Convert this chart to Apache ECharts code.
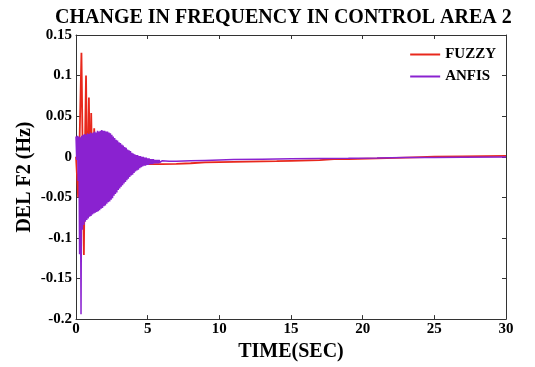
<!DOCTYPE html>
<html><head><meta charset="utf-8">
<script src="https://cdn.jsdelivr.net/npm/echarts@6/dist/echarts.min.js"></script>
<style>html,body{margin:0;padding:0;background:#fff}#c{width:535px;height:367px}</style>
</head><body><div id="c"></div>
<script>
// Tick labels
var xTicks = [0, 5, 10, 15, 20, 25, 30];
var yTicks = [-0.2, -0.15, -0.1, -0.05, 0, 0.05, 0.1, 0.15];

// FUZZY response: [time (s), del f2 (Hz)]
var fuzzy = [
  [0,0],[0.08,0.002],[0.15,-0.05],[0.25,0.02],[0.38,0.128],[0.47,0.0],[0.55,-0.121],
  [0.63,0.02],[0.70,0.100],[0.76,0.0],[0.81,-0.075],[0.86,0.02],[0.90,0.073],
  [0.95,0.0],[0.99,-0.050],[1.03,0.01],[1.06,0.054],[1.11,0.0],[1.16,-0.030],
  [1.22,0.0],[1.27,0.035],[1.35,-0.020],[1.45,0.020],[1.6,-0.016],[1.75,0.010],
  [1.9,-0.013],[2.1,0.002],[2.4,-0.010],[2.7,-0.004],[3.0,-0.008],[3.5,-0.008],
  [4,-0.009],[5,-0.009],[6,-0.009],[7,-0.0088],[8,-0.008],[9,-0.007],[10,-0.0065],
  [12,-0.006],[14,-0.0055],[15,-0.005],[17,-0.0042],[18,-0.003],[19,-0.0028],
  [21,-0.002],[23,-0.001],[25,0],[27,0.0005],[30,0.001]
];

// ANFIS response: fast oscillation sampled every 0.05 s from t = 0 to 6 s
var anfisStep = 0.05;
var anfisOsc = [
  0.025,-0.004,0.026,-0.030,0.025,-0.120,0.024,-0.194,0.026,-0.090,
  0.027,-0.084,0.028,-0.080,0.027,-0.078,0.029,-0.076,0.028,-0.074,
  0.030,-0.073,0.029,-0.071,0.030,-0.070,0.031,-0.069,0.030,-0.068,
  0.032,-0.067,0.031,-0.066,0.032,-0.064,0.033,-0.063,0.032,-0.061,
  0.032,-0.060,0.031,-0.058,0.031,-0.056,0.030,-0.055,0.029,-0.053,
  0.027,-0.051,0.025,-0.048,0.023,-0.046,0.021,-0.044,0.020,-0.041,
  0.018,-0.039,0.017,-0.037,0.015,-0.035,0.014,-0.033,0.012,-0.031,
  0.011,-0.029,0.009,-0.027,0.008,-0.025,0.007,-0.023,0.005,-0.022,
  0.004,-0.020,0.003,-0.018,0.002,-0.017,0.002,-0.016,0.001,-0.014,
  0.001,-0.013,0.000,-0.012,0.000,-0.011,-0.001,-0.011,-0.001,-0.010,
  -0.002,-0.010,-0.002,-0.009,-0.003,-0.009,-0.003,-0.009,-0.003,-0.008,
  -0.004,-0.008,-0.004,-0.008,-0.004,-0.008,-0.004,-0.007,-0.005,-0.007,
  -0.005
];
// ANFIS slow tail after 6 s: [time (s), del f2 (Hz)]
var anfisTail = [
  [6.5,-0.0055],[7,-0.0055],[8,-0.005],[9,-0.0045],[10,-0.004],[11,-0.0035],
  [13,-0.003],[15,-0.0025],[17,-0.002],[19,-0.0018],[21,-0.0015],[23,-0.001],
  [25,-0.0008],[27,-0.0006],[30,-0.0004]
];

var anfis = anfisOsc.map(function(v, i){ return [+(i*anfisStep).toFixed(2), v]; }).concat(anfisTail);

var FONT = 'Liberation Serif';
var chart = echarts.init(document.getElementById('c'), null, {renderer:'canvas'});
chart.setOption({
  animation: false,
  backgroundColor: '#fff',
  title: {
    text: 'CHANGE IN FREQUENCY IN CONTROL AREA 2',
    left: 50, top: 3,
    textStyle: {fontFamily: FONT, fontWeight: 'bold', fontSize: 20, color: '#000'}
  },
  legend: {
    right: 34, top: 42, orient: 'vertical', itemGap: 7,
    itemWidth: 30, itemHeight: 2, icon: 'rect',
    textStyle: {fontFamily: FONT, fontWeight: 'bold', fontSize: 15, color: '#000'},
    data: ['FUZZY', 'ANFIS']
  },
  grid: {left: 76, right: 29, top: 35, bottom: 44, containLabel: false},
  xAxis: [{
    type: 'value', min: 0, max: 30, interval: 5,
    name: 'TIME(SEC)', nameLocation: 'middle', nameGap: 21,
    nameTextStyle: {fontFamily: FONT, fontWeight: 'bold', fontSize: 20, color: '#000'},
    axisLine: {onZero: false, lineStyle: {color: '#333', width: 1}},
    axisTick: {inside: true, length: 4, lineStyle: {color: '#333'}},
    axisLabel: {fontFamily: FONT, fontWeight: 'bold', fontSize: 15, color: '#000', margin: 3},
    splitLine: {show: false}
  }, {
    type: 'value', min: 0, max: 30, interval: 5, position: 'top',
    axisLine: {onZero: false, lineStyle: {color: '#333', width: 1}},
    axisTick: {inside: true, length: 4, lineStyle: {color: '#333'}},
    axisLabel: {show: false}, splitLine: {show: false}
  }],
  yAxis: [{
    type: 'value', min: -0.2, max: 0.15, interval: 0.05,
    name: 'DEL F2 (Hz)', nameLocation: 'middle', nameGap: 41, nameMoveOverlap: false,
    nameTextStyle: {fontFamily: FONT, fontWeight: 'bold', fontSize: 20, color: '#000'},
    axisLine: {show: true, onZero: false, lineStyle: {color: '#333', width: 1}},
    axisTick: {show: true, inside: true, length: 4, lineStyle: {color: '#333'}},
    axisLabel: {fontFamily: FONT, fontWeight: 'bold', fontSize: 15, color: '#000', margin: 4,
      formatter: function(v){ var i = yTicks.indexOf(+v.toFixed(2)); return i >= 0 ? String(yTicks[i]) : ''; }},
    splitLine: {show: false}
  }, {
    type: 'value', min: -0.2, max: 0.15, interval: 0.05, position: 'right',
    axisLine: {show: true, onZero: false, lineStyle: {color: '#333', width: 1}},
    axisTick: {show: true, inside: true, length: 4, lineStyle: {color: '#333'}},
    axisLabel: {show: false}, splitLine: {show: false}
  }],
  series: [{
    name: 'FUZZY', type: 'line', data: fuzzy, showSymbol: false, symbol: 'none',
    lineStyle: {color: '#e8281c', width: 1.8}, itemStyle: {color: '#e8281c'}, z: 2
  }, {
    name: 'ANFIS', type: 'line', data: anfis, showSymbol: false, symbol: 'none',
    lineStyle: {color: '#8a22d0', width: 1.5}, itemStyle: {color: '#8a22d0'}, z: 3
  }]
});
</script>
</body></html>
